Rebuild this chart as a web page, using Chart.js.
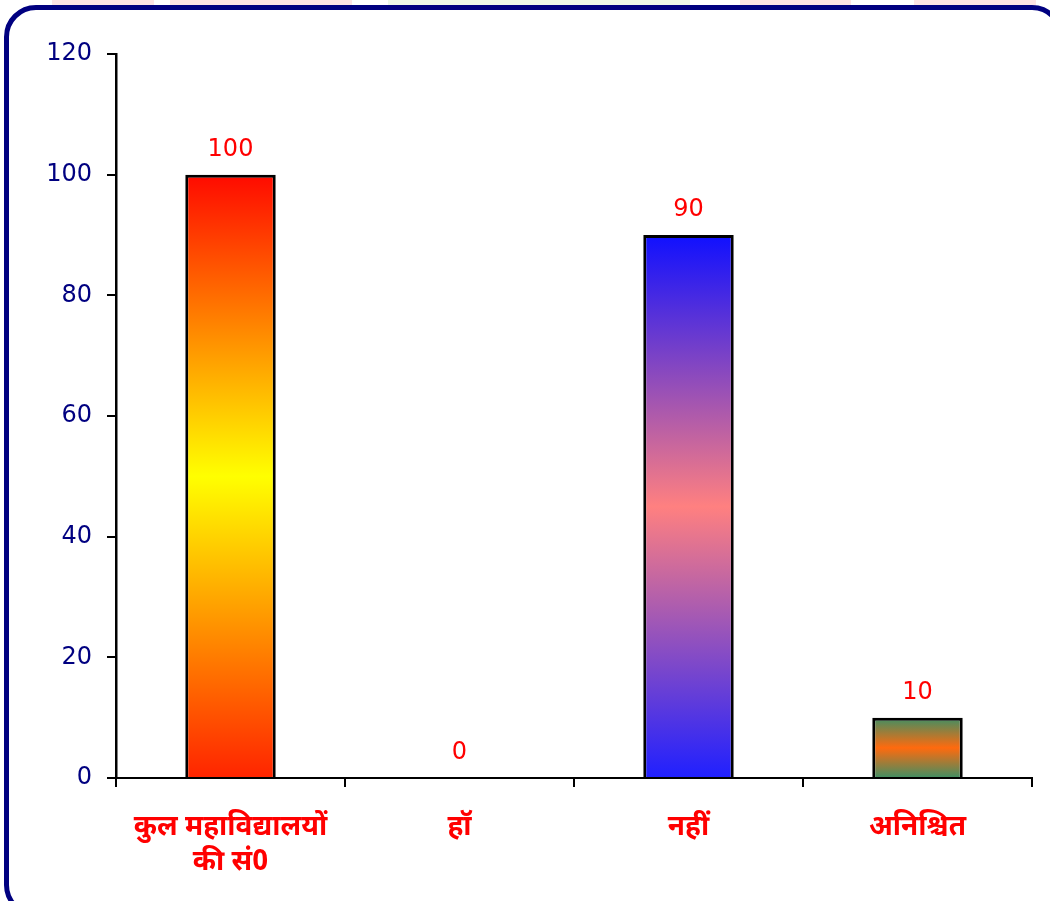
<!DOCTYPE html>
<html>
<head>
<meta charset="utf-8">
<script src="https://cdn.jsdelivr.net/npm/chart.js@4.4.1/dist/chart.umd.min.js"></script>
<style>
  html, body { margin: 0; padding: 0; background: #fff; overflow: hidden; }
  .strip { position: absolute; top: 0; height: 6px; }
  #frame {
    position: absolute; left: 4px; top: 5px; width: 1050px; height: 902px;
    border: 5px solid #000080; border-radius: 32px; background: #fff;
  }
  #wrap { position: absolute; left: 0; top: 0; width: 1050px; height: 901px; }
</style>
</head>
<body>
<div class="strip" style="left:52px;width:102px;background:#fde4e4"></div>
<div class="strip" style="left:170px;width:182px;background:#fde4e4"></div>
<div class="strip" style="left:388px;width:302px;background:#eef8e8"></div>
<div class="strip" style="left:740px;width:111px;background:#fde4e4"></div>
<div class="strip" style="left:914px;width:122px;background:#fde4e4"></div>
<div id="frame"></div>
<div id="wrap"><canvas id="chart" width="1050" height="901"></canvas></div>
<script>
// श्रेणियाँ और मान
const categories = [['कुल महाविद्यालयों', 'की सं0'], 'हॉ', 'नहीं', 'अनिश्चित'];
const values = [100, 0, 90, 10];
const yTicks = [0, 20, 40, 60, 80, 100, 120];

// हर बार के लिए ग्रेडिएंट रंग (ऊपर, बीच, नीचे)
const barGradients = [
  ['#ff0a00', '#ffff00', '#ff2400'],
  ['#ffffff', '#ffffff', '#ffffff'],
  ['#1010ff', '#ff8080', '#2020ff'],
  ['#3f8f64', '#ff6a0e', '#3f8f64']
];

// बार के ऊपर मान दिखाने वाला प्लगइन
const valueLabels = {
  id: 'valueLabels',
  afterDatasetsDraw(chart) {
    const ctx = chart.ctx;
    const meta = chart.getDatasetMeta(0);
    ctx.save();
    ctx.fillStyle = '#ff0000';
    ctx.font = '24px "DejaVu Sans", Arial, sans-serif';
    ctx.textAlign = 'center';
    ctx.textBaseline = 'alphabetic';
    meta.data.forEach((bar, i) => {
      ctx.fillText(String(values[i]), bar.x, bar.y - 19);
    });
    ctx.restore();
  }
};

const ctx = document.getElementById('chart').getContext('2d');
new Chart(ctx, {
  type: 'bar',
  data: {
    labels: categories,
    datasets: [{
      data: values,
      backgroundColor: (context) => {
        const chart = context.chart;
        const { chartArea } = chart;
        if (!chartArea) return 'rgba(0,0,0,0)';
        const v = values[context.dataIndex];
        const top = chart.scales.y.getPixelForValue(v);
        const bottom = chart.scales.y.getPixelForValue(0);
        if (bottom - top < 1) return barGradients[context.dataIndex][0];
        const g = chart.ctx.createLinearGradient(0, top, 0, bottom);
        const c = barGradients[context.dataIndex];
        g.addColorStop(0, c[0]);
        g.addColorStop(0.5, c[1]);
        g.addColorStop(1, c[2]);
        return g;
      },
      borderColor: '#000000',
      borderWidth: 3,
      borderSkipped: 'bottom',
      categoryPercentage: 1,
      barPercentage: 0.395
    }]
  },
  options: {
    responsive: false,
    animation: false,
    layout: { padding: { top: 54, right: 18, bottom: 20, left: 0 } },
    plugins: {
      legend: { display: false },
      tooltip: { enabled: false }
    },
    scales: {
      x: {
        offset: true,
        grid: {
          offset: true,
          drawOnChartArea: false,
          tickLength: 9,
          color: '#000000',
          lineWidth: 2
        },
        border: { color: '#000000', width: 2 },
        ticks: {
          color: '#ff0000',
          padding: 25,
          maxRotation: 0,
          autoSkip: false,
          font: { family: '"Noto Sans Devanagari", "Noto Sans", sans-serif', size: 28, weight: 'bold', lineHeight: 1.25 }
        },
        afterFit: (s) => { s.height = 103; }
      },
      y: {
        min: 0,
        max: 120,
        afterBuildTicks: (s) => { s.ticks = yTicks.map(v => ({ value: v })); },
        grid: {
          drawOnChartArea: false,
          tickLength: 9,
          color: '#000000',
          lineWidth: 2
        },
        border: { color: '#000000', width: 2.5 },
        ticks: {
          color: '#000080',
          padding: 15,
          font: { family: '"DejaVu Sans", Arial, sans-serif', size: 24 }
        },
        afterFit: (s) => { s.width = 116; }
      }
    }
  },
  plugins: [valueLabels]
});
</script>
</body>
</html>
